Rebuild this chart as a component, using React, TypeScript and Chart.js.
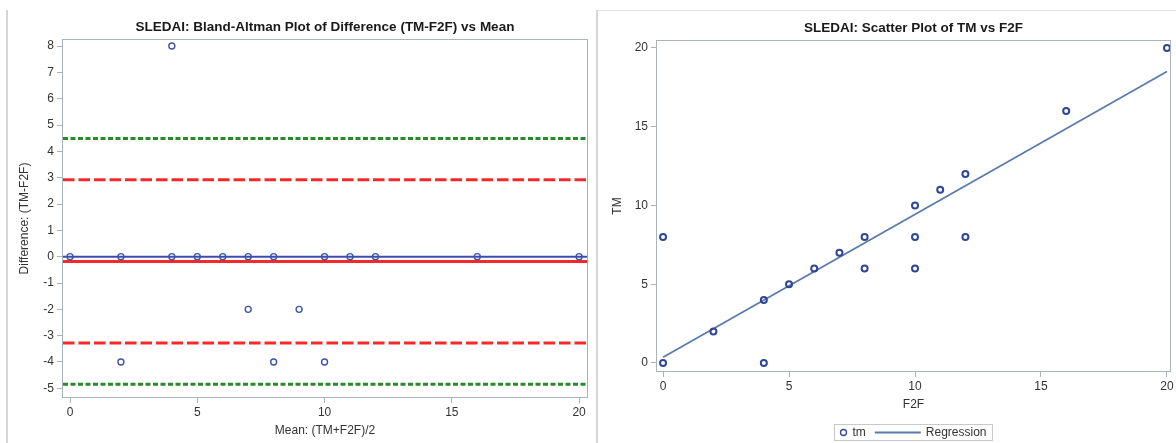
import React, { useEffect, useRef } from 'react';
import { Chart, registerables } from 'chart.js';

Chart.register(...registerables);

const FONT = '"Liberation Sans", Arial, "DejaVu Sans", sans-serif';
const FRAME = '#A9B3BD';
const TEXT = '#333333';

// ---------- Bland-Altman data ----------
const BA_MEAN = [0, 2, 4, 5, 6, 7, 8, 10, 11, 12, 16, 20, 4, 7, 9, 2, 8, 10];
const BA_DIFF = [0, 0, 0, 0, 0, 0, 0, 0, 0, 0, 0, 0, 8, -2, -2, -4, -4, -4];
const BA_ZERO = 0;
const BA_BIAS = -0.18;
const BA_LOA = [2.92, -3.28];
const BA_OUTER = [4.49, -4.85];
const BA_X_RANGE = [-0.275, 20.31];
const BA_Y_RANGE = [-5.33, 8.23];
const BA_X_TICKS = [0, 5, 10, 15, 20];
const BA_Y_TICKS = [-5, -4, -3, -2, -1, 0, 1, 2, 3, 4, 5, 6, 7, 8];

// ---------- Scatter data ----------
const F2F = [0, 0, 2, 4, 4, 5, 6, 7, 8, 8, 10, 10, 10, 11, 12, 12, 16, 20];
const TM = [0, 8, 2, 4, 0, 5, 6, 7, 8, 6, 10, 8, 6, 11, 12, 8, 16, 20];
const REG_X = [0, 20];
const REG_Y = [0.36, 18.5];
const SC_X_RANGE = [-0.24, 20.12];
const SC_Y_RANGE = [-0.51, 20.44];
const SC_TICKS = [0, 5, 10, 15, 20];

const tickFont = { family: FONT, size: 12 };
const titleFont = { family: FONT, size: 12 };

function hLine(label: string, value: number, color: string, width: number, dash: number[]) {
  return {
    label,
    data: [
      { x: BA_X_RANGE[0], y: value },
      { x: BA_X_RANGE[1], y: value },
    ],
    showLine: true,
    borderColor: color,
    backgroundColor: color,
    borderWidth: width,
    borderDash: dash,
    pointRadius: 0,
    fill: false,
  };
}

function axis(
  range: number[],
  tickVals: number[],
  title: string,
  size: number,
  isX: boolean,
  titlePad: number
) {
  return {
    type: 'linear',
    position: isX ? 'bottom' : 'left',
    min: range[0],
    max: range[1],
    afterBuildTicks: (s: any) => {
      s.ticks = tickVals.map((v) => ({ value: v }));
    },
    afterFit: (s: any) => {
      if (isX) s.height = size;
      else s.width = size;
    },
    grid: { drawOnChartArea: false, drawTicks: true, tickLength: 6, color: FRAME, lineWidth: 1 },
    border: { display: false },
    ticks: { font: tickFont, color: TEXT, padding: isX ? 2 : 3, maxRotation: 0, autoSkip: false },
    title: {
      display: true,
      text: title,
      font: titleFont,
      color: TEXT,
      padding: isX ? { top: 0, bottom: titlePad } : { top: titlePad, bottom: 0 },
    },
  };
}

function framePlugin(titleText: string, titleY: number, legend: boolean) {
  return {
    id: 'frameTitle' + titleText.length,
    afterDatasetsDraw(chart: any) {
      const { ctx, chartArea } = chart;
      ctx.save();
      ctx.strokeStyle = FRAME;
      ctx.lineWidth = 1;
      const l = Math.round(chartArea.left) - 0.5;
      const t = Math.round(chartArea.top) - 0.5;
      const r = Math.round(chartArea.right) + 0.5;
      const b = Math.round(chartArea.bottom) + 0.5;
      ctx.strokeRect(l, t, r - l, b - t);
      ctx.restore();
    },
    afterDraw(chart: any) {
      const { ctx, chartArea } = chart;
      ctx.save();
      ctx.fillStyle = '#1a1a1a';
      ctx.font = `bold 13.5px ${FONT}`;
      ctx.textAlign = 'center';
      ctx.textBaseline = 'middle';
      ctx.fillText(titleText, (chartArea.left + chartArea.right) / 2, titleY);
      ctx.restore();

      if (legend) {
        const ds = chart.data.datasets;
        ctx.save();
        ctx.font = `12px ${FONT}`;
        const t1 = ds[0].label;
        const t2 = ds[1].label;
        const w1 = ctx.measureText(t1).width;
        const w2 = ctx.measureText(t2).width;
        const total = 9 + 9 + w1 + 9 + 46 + 5 + w2 + 6;
        const cx = (chartArea.left + chartArea.right) / 2;
        const x0 = Math.round(cx - total / 2) + 0.5;
        const top = 424.5;
        const h = 16;
        const cy = top + h / 2;
        ctx.strokeStyle = '#C9C9C9';
        ctx.lineWidth = 1;
        ctx.strokeRect(x0, top, total, h);
        // marker
        ctx.beginPath();
        ctx.arc(x0 + 9, cy, 3, 0, Math.PI * 2);
        ctx.strokeStyle = ds[0].borderColor;
        ctx.lineWidth = 1.3;
        ctx.stroke();
        ctx.fillStyle = TEXT;
        ctx.textBaseline = 'middle';
        ctx.textAlign = 'left';
        ctx.fillText(t1, x0 + 18, cy);
        const lx = x0 + 18 + w1 + 9;
        ctx.beginPath();
        ctx.moveTo(lx, cy);
        ctx.lineTo(lx + 46, cy);
        ctx.strokeStyle = ds[1].borderColor;
        ctx.lineWidth = 2;
        ctx.stroke();
        ctx.fillText(t2, lx + 46 + 5, cy);
        ctx.restore();
      }
    },
  };
}

function BlandAltman() {
  const ref = useRef<HTMLCanvasElement>(null);
  useEffect(() => {
    if (!ref.current) return;
    const points = BA_MEAN.map((m, i) => ({ x: m, y: BA_DIFF[i] }));
    const chart = new Chart(ref.current, {
      type: 'scatter',
      data: {
        datasets: [
          {
            label: 'diff',
            data: points,
            pointStyle: 'circle',
            pointRadius: 3,
            pointBorderWidth: 1.4,
            borderColor: '#3E55A3',
            backgroundColor: 'rgba(0,0,0,0)',
            showLine: false,
            clip: false,
          } as any,
          hLine('Zero', BA_ZERO, '#3C4BB0', 2, []),
          hLine('Mean', BA_BIAS, '#F42A2A', 3, []),
          hLine('Upper LoA', BA_LOA[0], '#F42A2A', 3, [11.5, 4]),
          hLine('Lower LoA', BA_LOA[1], '#F42A2A', 3, [11.5, 4]),
          hLine('Upper', BA_OUTER[0], '#2A8A2A', 3, [5, 2.5]),
          hLine('Lower', BA_OUTER[1], '#2A8A2A', 3, [5, 2.5]),
        ],
      },
      options: {
        animation: false,
        responsive: false,
        devicePixelRatio: 1,
        events: [],
        layout: { padding: { left: 0, right: 10, top: 40, bottom: 0 } },
        plugins: { legend: { display: false }, tooltip: { enabled: false }, title: { display: false } },
        scales: {
          x: axis(BA_X_RANGE, BA_X_TICKS, 'Mean: (TM+F2F)/2', 46, true, 5) as any,
          y: axis(BA_Y_RANGE, BA_Y_TICKS, 'Difference: (TM-F2F)', 63, false, 17) as any,
        },
      },
      plugins: [framePlugin('SLEDAI: Bland-Altman Plot of Difference (TM-F2F) vs Mean', 27.5, false)],
    });
    return () => chart.destroy();
  }, []);
  return <canvas ref={ref} width={597} height={443} style={{ width: 597, height: 443, display: 'block' }} />;
}

function ScatterPlot() {
  const ref = useRef<HTMLCanvasElement>(null);
  useEffect(() => {
    if (!ref.current) return;
    const points = F2F.map((x, i) => ({ x, y: TM[i] }));
    const reg = REG_X.map((x, i) => ({ x, y: REG_Y[i] }));
    const chart = new Chart(ref.current, {
      type: 'scatter',
      data: {
        datasets: [
          {
            label: 'tm',
            data: points,
            pointStyle: 'circle',
            pointRadius: 3,
            pointBorderWidth: 2,
            borderColor: '#2F4696',
            backgroundColor: 'rgba(0,0,0,0)',
            showLine: false,
            clip: false,
          } as any,
          {
            label: 'Regression',
            data: reg,
            showLine: true,
            borderColor: '#5A7BAC',
            backgroundColor: '#5A7BAC',
            borderWidth: 1.8,
            pointRadius: 0,
            fill: false,
          } as any,
        ],
      },
      options: {
        animation: false,
        responsive: false,
        devicePixelRatio: 1,
        events: [],
        layout: { padding: { left: 0, right: 5, top: 41, bottom: 0 } },
        plugins: { legend: { display: false }, tooltip: { enabled: false }, title: { display: false } },
        scales: {
          x: axis(SC_X_RANGE, SC_TICKS, 'F2F', 72, true, 31) as any,
          y: axis(SC_Y_RANGE, SC_TICKS, 'TM', 59, false, 12) as any,
        },
      },
      plugins: [framePlugin('SLEDAI: Scatter Plot of TM vs F2F', 28, true)],
    });
    return () => chart.destroy();
  }, []);
  return <canvas ref={ref} width={578} height={443} style={{ width: 578, height: 443, display: 'block' }} />;
}

export default function App() {
  return (
    <div
      style={{
        position: 'absolute',
        left: 0,
        top: 0,
        width: 1176,
        height: 443,
        background: '#ffffff',
        overflow: 'hidden',
      }}
    >
      <div style={{ position: 'absolute', left: 0, top: 0 }}>
        <BlandAltman />
      </div>
      <div style={{ position: 'absolute', left: 598, top: 0 }}>
        <ScatterPlot />
      </div>
      <div style={{ position: 'absolute', left: 6, top: 10, width: 2, height: 433, background: '#D6D6D6' }} />
      <div style={{ position: 'absolute', left: 596, top: 10, width: 2, height: 433, background: '#D6D6D6' }} />
      <div style={{ position: 'absolute', left: 598, top: 10, width: 578, height: 1, background: '#E6E6E6' }} />
    </div>
  );
}
